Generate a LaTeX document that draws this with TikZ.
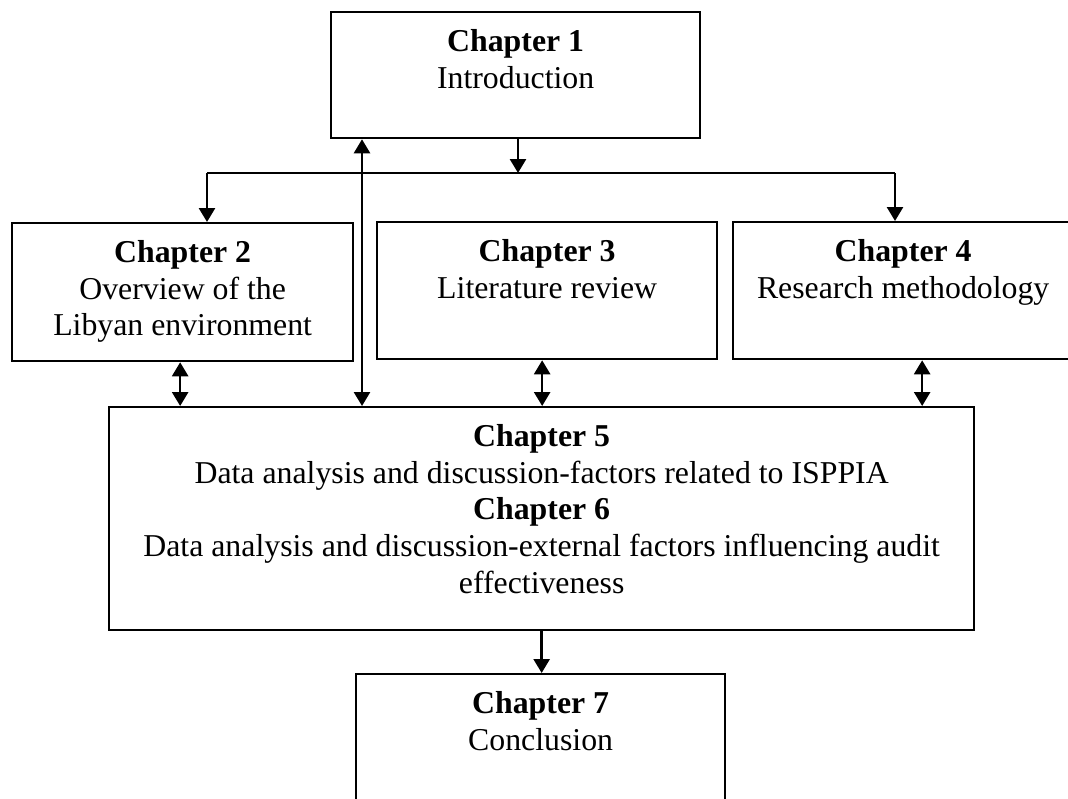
\documentclass[tikz,border=0pt]{standalone}
\usepackage{fontspec}
\setmainfont{Liberation Serif}
\usetikzlibrary{arrows.meta}
\begin{document}
\begin{tikzpicture}[x=1pt,y=-1pt,
  box/.style={draw, line width=2.3pt, inner sep=0pt, anchor=north west},
  txt/.style={align=center, inner sep=0pt, anchor=north,
              font=\fontsize{31.8}{36.8}\selectfont},
  conn/.style={line width=2.6pt},
  tip/.style={-{Triangle[width=16pt,length=14pt]}},
  twotips/.style={{Triangle[width=16pt,length=14pt]}-{Triangle[width=16pt,length=14pt]}}]
\useasboundingbox (0,0) rectangle (1068,798);
\clip (0,0) rectangle (1068,798);

% chapter boxes
\node[box, minimum width=369pt, minimum height=126pt] (c1) at (330,11) {};
\node[box, minimum width=341pt, minimum height=138pt] (c2) at (11,222) {};
\node[box, minimum width=340pt, minimum height=137pt] (c3) at (376,221) {};
\node[box, minimum width=340pt, minimum height=137pt] (c4) at (732,221) {};
\node[box, minimum width=865pt, minimum height=223pt] (c5) at (108,406) {};
\node[box, minimum width=369pt, minimum height=140pt] (c7) at (355,673) {};

% box texts
\node[txt] (t1) at ([yshift=-18pt]c1.north) {\textbf{Chapter 1}\\Introduction};
\node[txt] (t2) at ([yshift=-18pt]c2.north) {\textbf{Chapter 2}\\Overview of the\\Libyan environment};
\node[txt] (t3) at ([yshift=-18pt]c3.north) {\textbf{Chapter 3}\\Literature review};
\node[txt] (t4) at ([yshift=-18pt]c4.north) {\textbf{Chapter 4}\\Research methodology};
\node[txt] (t5) at ([yshift=-18pt]c5.north) {\textbf{Chapter 5}\\Data analysis and discussion-factors related to ISPPIA\\\textbf{Chapter 6}\\Data analysis and discussion-external factors influencing audit\\effectiveness};
\node[txt] (t7) at ([yshift=-18pt]c7.north) {\textbf{Chapter 7}\\Conclusion};

% distribution line below chapter 1
\coordinate (split) at (518,173);
\coordinate (hl) at (207,173);
\coordinate (hr) at (895,173);
\draw[conn,tip] (c1.south -| split) -- (split);
\draw[conn] (hl) -- (hr);
\draw[conn,tip] (hl) -- (hl |- c2.north);
\draw[conn,tip] (hr) -- (hr |- c4.north);

% two-way links to chapters 5 and 6
\coordinate (a2) at ([xshift=-2.5pt]c2.south);
\coordinate (a3) at ([xshift=-5pt]c3.south);
\coordinate (a4) at ([xshift=19pt]c4.south);
\coordinate (a1) at ([xshift=32pt]c1.south west);
\draw[conn,twotips] (a2) -- (a2 |- c5.north);
\draw[conn,twotips] (a3) -- (a3 |- c5.north);
\draw[conn,twotips] (a4) -- (a4 |- c5.north);
\draw[conn,twotips] (a1) -- (a1 |- c5.north);

% on to the conclusion
\draw[conn,tip] (c5.south) -- (c5.south |- c7.north);
\end{tikzpicture}
\end{document}
